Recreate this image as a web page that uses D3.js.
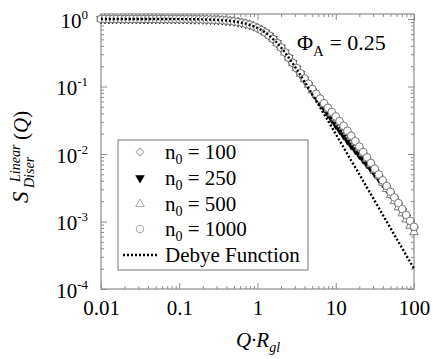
<!DOCTYPE html>
<html>
<head>
<meta charset="utf-8">
<script src="https://cdn.jsdelivr.net/npm/d3@7"></script>
<style>
  body { margin: 0; background: #fff; }
</style>
</head>
<body>
<svg id="chart" width="433" height="359"></svg>
<script>
// Q·Rgl sample positions (20 per decade)
const qValues = [
  0.01, 0.0112, 0.0126, 0.0141, 0.0158, 0.0178, 0.02, 0.0224, 0.0251, 0.0282,
  0.0316, 0.0355, 0.0398, 0.0447, 0.0501, 0.0562, 0.0631, 0.0708, 0.0794, 0.0891,
  0.1, 0.112, 0.126, 0.141, 0.158, 0.178, 0.2, 0.224, 0.251, 0.282,
  0.316, 0.355, 0.398, 0.447, 0.501, 0.562, 0.631, 0.708, 0.794, 0.891,
  1, 1.12, 1.26, 1.41, 1.58, 1.78, 2, 2.24, 2.51, 2.82,
  3.16, 3.55, 3.98, 4.47, 5.01, 5.62, 6.31, 7.08, 7.94, 8.91,
  10, 11.2, 12.6, 14.1, 15.8, 17.8, 20, 22.4, 25.1, 28.2,
  31.6, 35.5, 39.8, 44.7, 50.1, 56.2, 63.1, 70.8, 79.4, 89.1,
  100
];

// low-Q part, where every curve sits on the same plateau (first 48 points)
const lowQ = [
  1.000, 1.000, 0.9999, 0.9999, 0.9999, 0.9999, 0.9999, 0.9998, 0.9998, 0.9997,
  0.9997, 0.9996, 0.9995, 0.9993, 0.9992, 0.9989, 0.9987, 0.9983, 0.9979, 0.9974,
  0.9967, 0.9958, 0.9947, 0.9934, 0.9917, 0.9895, 0.9869, 0.9835, 0.9793, 0.9740,
  0.9675, 0.9593, 0.9492, 0.9367, 0.9214, 0.9016, 0.8793, 0.8520, 0.8192, 0.7805,
  0.7358, 0.6851, 0.6289, 0.5683, 0.5050, 0.4409, 0.3785, 0.3200
];

// high-Q part of each curve (last 33 points)
const debyeTail = [
  0.2668, 0.2201, 0.1800, 0.1462, 0.1182, 0.0952, 0.0765, 0.0613, 0.0490, 0.0391,
  0.0312, 0.0249, 0.0198, 0.01576, 0.01254, 0.00997, 0.00793, 0.00631, 0.00501, 0.00398,
  0.00317, 0.00252, 0.00200, 0.00159, 0.00126, 0.00100, 0.000796, 0.000633, 0.000502, 0.000399,
  0.000317, 0.000252, 0.000200
];
const n100Tail = [
  0.2668, 0.2232, 0.1863, 0.1549, 0.1281, 0.1073, 0.0899, 0.0761, 0.0646, 0.0552,
  0.0472, 0.0409, 0.0352, 0.03003, 0.02560, 0.02156, 0.01817, 0.01514, 0.01258, 0.01047,
  0.00873, 0.00718, 0.00590, 0.00486, 0.00398, 0.00327, 0.00270, 0.00222, 0.00182, 0.00149,
  0.00122, 0.000999, 0.000815
];
const n250Tail = [
  0.2668, 0.2227, 0.1850, 0.1531, 0.1267, 0.1044, 0.0858, 0.0712, 0.0589, 0.0487,
  0.0402, 0.0332, 0.0273, 0.02278, 0.01898, 0.01598, 0.01347, 0.01148, 0.00977, 0.00832,
  0.00710, 0.00605, 0.00514, 0.00438, 0.00372, 0.00309, 0.00258, 0.00212, 0.00174, 0.00142,
  0.00115, 0.000936, 0.000760
];
const n500Tail = [
  0.2668, 0.2232, 0.1859, 0.1545, 0.1281, 0.1063, 0.0882, 0.0744, 0.0631, 0.0540,
  0.0461, 0.0399, 0.0344, 0.02935, 0.02502, 0.02107, 0.01775, 0.01479, 0.01230, 0.01023,
  0.00853, 0.00702, 0.00577, 0.00469, 0.00376, 0.00302, 0.00246, 0.00200, 0.00162, 0.00132,
  0.00107, 0.000864, 0.000693
];
const n1000Tail = [
  0.2668, 0.2242, 0.1876, 0.1567, 0.1311, 0.1098, 0.0920, 0.0779, 0.0661, 0.0565,
  0.0483, 0.0418, 0.0360, 0.03073, 0.02620, 0.02206, 0.01859, 0.01549, 0.01288, 0.01071,
  0.00893, 0.00735, 0.00604, 0.00497, 0.00408, 0.00335, 0.00276, 0.00227, 0.00187, 0.00153,
  0.00125, 0.00102, 0.000834
];

const xTicks = [0.01, 0.1, 1, 10, 100];
const xTickLabels = ['0.01', '0.1', '1', '10', '100'];
const yTicks = [1e-4, 1e-3, 1e-2, 1e-1, 1];
const yTickExps = ['-4', '-3', '-2', '-1', '0'];

const series = [
  { name: '100', shape: 'diamond', values: [...lowQ, ...n100Tail] },
  { name: '250', shape: 'triDown', values: [...lowQ, ...n250Tail] },
  { name: '500', shape: 'triUp', values: [...lowQ, ...n500Tail] },
  { name: '1000', shape: 'circle', values: [...lowQ, ...n1000Tail] },
];
const debye = [...lowQ, ...debyeTail];

const frame = { left: 101, right: 414, top: 14, bottom: 289 };
const gray = '#8c8c8c';
const markerGray = '#7a7a7a';
const serif = '"Liberation Serif", "Times New Roman", serif';

const svg = d3.select('#chart');

const x = d3.scaleLog().domain([0.01, 100]).range([frame.left, frame.right]);
const y = d3.scaleLog().domain([1e-4, 1.186]).range([frame.bottom, frame.top]);

const isMajor = v => Math.abs(Math.log10(v) - Math.round(Math.log10(v))) < 1e-6;
const xMinor = x.ticks().filter(v => !isMajor(v));
const yMinor = y.ticks().filter(v => !isMajor(v) && v < 1);

// serif text helper: inline style so nothing overrides it
const addText = (parent, size) =>
  parent.append('text')
    .style('font-family', serif)
    .style('font-size', `${size}px`)
    .attr('fill', '#000');

// frame
svg.append('rect')
  .attr('x', frame.left)
  .attr('y', frame.top)
  .attr('width', frame.right - frame.left)
  .attr('height', frame.bottom - frame.top)
  .attr('fill', 'none')
  .attr('stroke', gray)
  .attr('stroke-width', 1.2);

// inward ticks on all four sides
function tickAxis(axis, translate, values, size) {
  const g = svg.append('g')
    .attr('transform', translate)
    .call(axis.tickValues(values).tickSize(size).tickFormat(() => ''));
  g.select('.domain').remove();
  g.selectAll('.tick line').attr('stroke', gray).attr('stroke-width', 1);
  g.selectAll('.tick text').remove();
  return g;
}

const xAxisMain = tickAxis(d3.axisBottom(x), `translate(0,${frame.bottom})`, xTicks, -6);
tickAxis(d3.axisBottom(x), `translate(0,${frame.bottom})`, xMinor, -3);
tickAxis(d3.axisTop(x), `translate(0,${frame.top})`, xTicks, -6);
tickAxis(d3.axisTop(x), `translate(0,${frame.top})`, xMinor, -3);

const yAxisMain = tickAxis(d3.axisLeft(y), `translate(${frame.left},0)`, yTicks, -6);
tickAxis(d3.axisLeft(y), `translate(${frame.left},0)`, yMinor, -3);
tickAxis(d3.axisRight(y), `translate(${frame.right},0)`, yTicks, -6);
tickAxis(d3.axisRight(y), `translate(${frame.right},0)`, yMinor, -3);

// tick labels
xAxisMain.selectAll('.tick').each(function (d, i) {
  addText(d3.select(this), 21)
    .attr('y', 26)
    .attr('text-anchor', 'middle')
    .text(xTickLabels[i]);
});

yAxisMain.selectAll('.tick').each(function (d, i) {
  const t = addText(d3.select(this), 21)
    .attr('x', -13)
    .attr('y', 8)
    .attr('text-anchor', 'end');
  t.append('tspan').text('10');
  t.append('tspan').style('font-size', '13px').attr('dy', -9).text(yTickExps[i]);
});

// markers
const symbolPath = {
  diamond: d3.symbol(d3.symbolSquare, 32)(),
  triDown: d3.symbol(d3.symbolTriangle, 32)(),
  triUp: d3.symbol(d3.symbolTriangle, 32)(),
  circle: d3.symbol(d3.symbolCircle, 46)(),
};
const symbolRotate = { diamond: 45, triDown: 180, triUp: 0, circle: 0 };

function styleMarker(sel, shape) {
  if (shape === 'triDown') {
    sel.attr('fill', '#000').attr('stroke', '#000').attr('stroke-width', 0.6);
  } else {
    sel.attr('fill', '#fff').attr('stroke', markerGray).attr('stroke-width', 1);
  }
}

const markerLayer = svg.append('g');
series.forEach(s => {
  markerLayer.append('g')
    .selectAll('path')
    .data(s.values.map((v, i) => [qValues[i], v]))
    .join('path')
    .attr('d', symbolPath[s.shape])
    .attr('transform', d => `translate(${x(d[0])},${y(d[1])}) rotate(${symbolRotate[s.shape]})`)
    .call(styleMarker, s.shape);
});

// Debye function: dotted black
const line = d3.line()
  .x((d, i) => x(qValues[i]))
  .y(d => y(d))
  .curve(d3.curveMonotoneX);

svg.append('path')
  .attr('d', line(debye))
  .attr('fill', 'none')
  .attr('stroke', '#000')
  .attr('stroke-width', 2.4)
  .attr('stroke-dasharray', '2,2');

// legend
const legend = svg.append('g');
legend.append('rect')
  .attr('x', 118).attr('y', 140)
  .attr('width', 190).attr('height', 130)
  .attr('fill', '#fff')
  .attr('stroke', gray)
  .attr('stroke-width', 1.2);

const rowY = [152, 178, 204, 229, 255];
series.forEach((s, i) => {
  legend.append('path')
    .attr('d', symbolPath[s.shape])
    .attr('transform', `translate(140,${rowY[i]}) rotate(${symbolRotate[s.shape]})`)
    .call(styleMarker, s.shape)
    .attr('stroke', s.shape === 'triDown' ? '#000' : '#a8a8a8');
  const t = addText(legend, 21)
    .attr('x', 165)
    .attr('y', rowY[i] + 7);
  t.append('tspan').text('n');
  t.append('tspan').style('font-size', '14px').attr('dy', 5).text('0');
  t.append('tspan').attr('dy', -5).text(` = ${s.name}`);
});
legend.append('line')
  .attr('x1', 123).attr('x2', 157)
  .attr('y1', rowY[4]).attr('y2', rowY[4])
  .attr('stroke', '#000')
  .attr('stroke-width', 2.4)
  .attr('stroke-dasharray', '2,2');
addText(legend, 21)
  .attr('x', 165)
  .attr('y', rowY[4] + 7)
  .text('Debye Function');

// annotation
const ann = addText(svg, 22)
  .attr('x', 297)
  .attr('y', 50);
ann.append('tspan').text('Φ');
ann.append('tspan').style('font-size', '15px').attr('dy', 6).text('A');
ann.append('tspan').attr('dy', -6).text(' = 0.25');

// x title
const xt = addText(svg, 21)
  .attr('x', 258)
  .attr('y', 347)
  .attr('text-anchor', 'middle')
  .style('font-style', 'italic');
xt.append('tspan').text('Q·R');
xt.append('tspan').style('font-size', '14px').attr('dy', 5).text('gl');

// y title
const yt = svg.append('g').attr('transform', 'translate(28,203) rotate(-90)');
addText(yt, 23).style('font-style', 'italic').text('S');
addText(yt, 14).attr('x', 15).attr('y', 6).style('font-style', 'italic').text('Diser');
addText(yt, 14).attr('x', 21).attr('y', -8).style('font-style', 'italic').text('Linear');
const q = addText(yt, 21).attr('x', 63);
q.append('tspan').text('(');
q.append('tspan').style('font-style', 'italic').text('Q');
q.append('tspan').text(')');
</script>
</body>
</html>
